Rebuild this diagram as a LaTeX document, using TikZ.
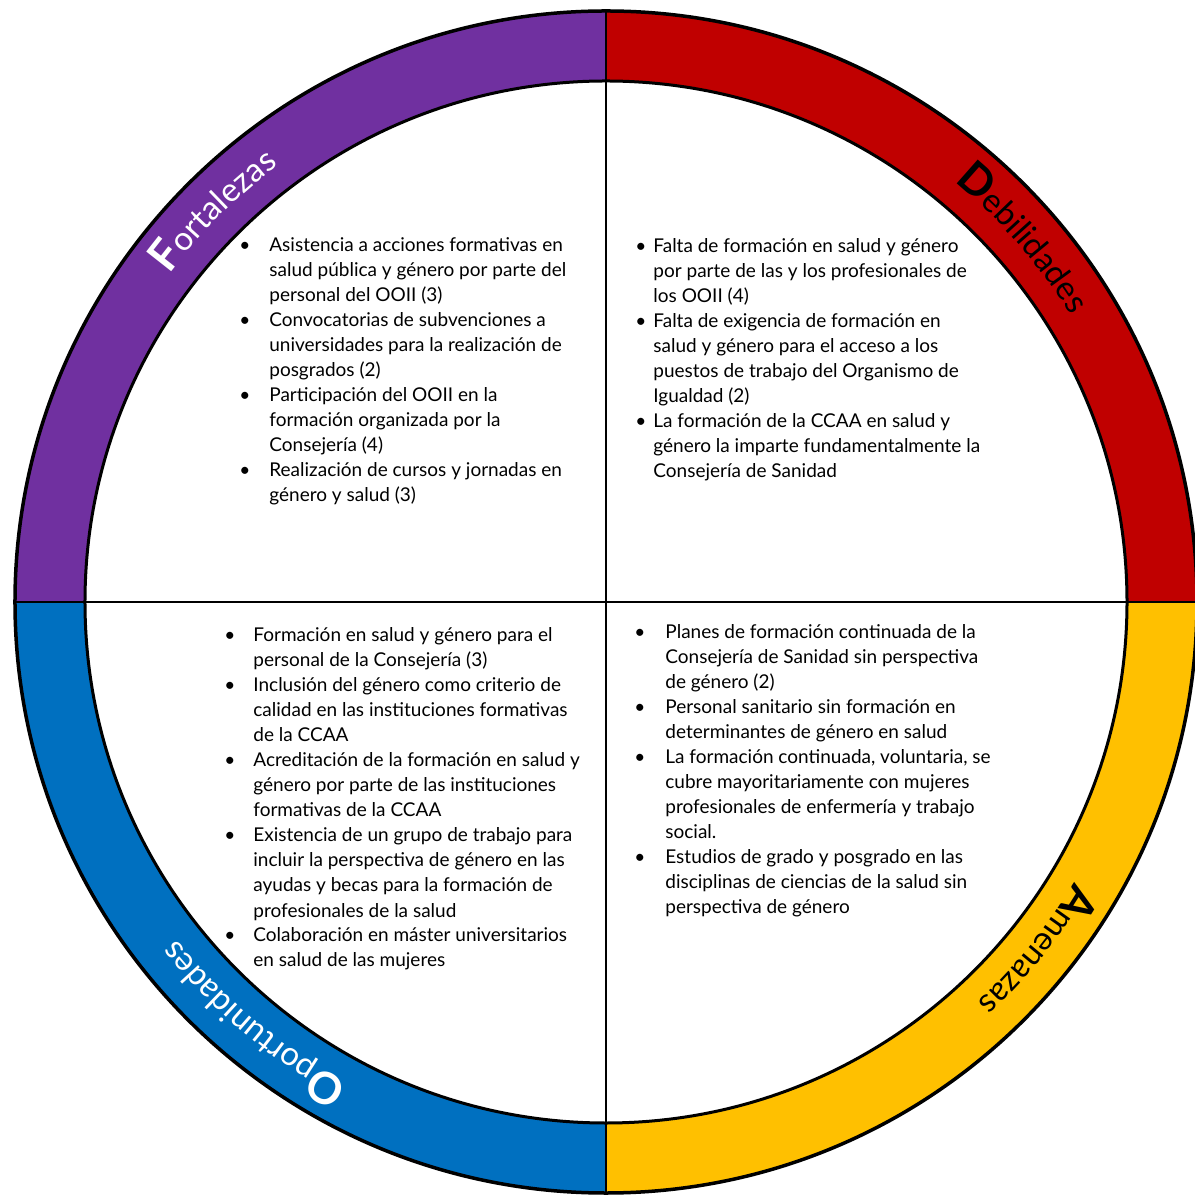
\documentclass[tikz,border=0pt]{standalone}
\usepackage{fontspec}
\setmainfont{Lato}
\usetikzlibrary{decorations.text}

\definecolor{fpurple}{HTML}{7030A0}
\definecolor{dred}{HTML}{C00000}
\definecolor{ablue}{HTML}{0070C0}
\definecolor{ayellow}{HTML}{FFC000}

\newcommand{\capfont}{\fontsize{22}{22}\selectfont\bfseries}
\newcommand{\lowfont}{\fontsize{16.5}{16.5}\selectfont\mdseries}

\tikzset{
	ring line/.style={line width=1.75pt},
	swot list/.style={anchor=base west, inner sep=0pt, font=\fontsize{9.5}{12.5}\selectfont},
	ring label/.style={decorate, decoration={text along path, text align=center, text color=#1}}
}

\begin{document}
\begin{tikzpicture}[x=0.5pt, y=0.5pt]
	\useasboundingbox (-606,-595) rectangle (588,602);
	% the four quarters of the ring
	\fill[fpurple] (90:591) arc (90:180:591) -- (180:521) arc (180:90:521) -- cycle;
	\fill[dred] (0:591) arc (0:90:591) -- (90:521) arc (90:0:521) -- cycle;
	\fill[ayellow] (270:591) arc (270:360:591) -- (0:521) arc (360:270:521) -- cycle;
	\fill[ablue] (180:591) arc (180:270:591) -- (270:521) arc (270:180:521) -- cycle;
	\draw[ring line] (0,0) circle (591);
	\draw[line width=1.5pt] (0,0) circle (521);
	\coordinate (top) at (90:592);
	\coordinate (bottom) at (270:592);
	\coordinate (left) at (180:592);
	\coordinate (right) at (0:592);
	\draw[line width=1pt] (top) -- (bottom);
	\draw[line width=1pt] (left) -- (right);
	% names along the ring
	\path[ring label=white, decoration={text={|\capfont|F|\lowfont|ortalezas}}]
		(165:546) arc[start angle=165, end angle=105, radius=546];
	\path[ring label=black, decoration={text={|\capfont|D|\lowfont|ebilidades}}]
		(71:546) arc[start angle=71, end angle=11, radius=546];
	\path[ring label=black, decoration={text={|\capfont|A|\lowfont|menazas}}]
		(-9:546) arc[start angle=-9, end angle=-69, radius=546];
	\path[ring label=white, decoration={text={|\capfont|O|\lowfont|portunidades}}]
		(260:546) arc[start angle=260, end angle=200, radius=546];
	% lists
	\node[swot list] (fortalezas) at (-367,350) {%
		\begin{tabular}[t]{@{}p{15pt}@{}l@{}}
		\textbullet & Asistencia a acciones formativas en\\
		& salud pública y género por parte del\\
		& personal del OOII (3)\\
		\textbullet & Convocatorias de subvenciones a\\
		& universidades para la realización de\\
		& posgrados (2)\\
		\textbullet & Participación del OOII en la\\
		& formación organizada por la\\
		& Consejería (4)\\
		\textbullet & Realización de cursos y jornadas en\\
		& género y salud (3)
		\end{tabular}};
	\node[swot list] (debilidades) at (29,349) {%
		\begin{tabular}[t]{@{}p{9pt}@{}l@{}}
		\textbullet & Falta de formación en salud y género\\
		& por parte de las y los profesionales de\\
		& los OOII (4)\\
		\textbullet & Falta de exigencia de formación en\\
		& salud y género para el acceso a los\\
		& puestos de trabajo del Organismo de\\
		& Igualdad (2)\\
		\textbullet & La formación de la CCAA en salud y\\
		& género la imparte fundamentalmente la\\
		& Consejería de Sanidad
		\end{tabular}};
	\node[swot list] (oportunidades) at (-382,-40) {%
		\begin{tabular}[t]{@{}p{14.5pt}@{}l@{}}
		\textbullet & Formación en salud y género para el\\
		& personal de la Consejería (3)\\
		\textbullet & Inclusión del género como criterio de\\
		& calidad en las instituciones formativas\\
		& de la CCAA\\
		\textbullet & Acreditación de la formación en salud y\\
		& género por parte de las instituciones\\
		& formativas de la CCAA\\
		\textbullet & Existencia de un grupo de trabajo para\\
		& incluir la perspectiva de género en las\\
		& ayudas y becas para la formación de\\
		& profesionales de la salud\\
		\textbullet & Colaboración en máster universitarios\\
		& en salud de las mujeres
		\end{tabular}};
	\node[swot list] (amenazas) at (28,-37) {%
		\begin{tabular}[t]{@{}p{15.5pt}@{}l@{}}
		\textbullet & Planes de formación continuada de la\\
		& Consejería de Sanidad sin perspectiva\\
		& de género (2)\\
		\textbullet & Personal sanitario sin formación en\\
		& determinantes de género en salud\\
		\textbullet & La formación continuada, voluntaria, se\\
		& cubre mayoritariamente con mujeres\\
		& profesionales de enfermería y trabajo\\
		& social.\\
		\textbullet & Estudios de grado y posgrado en las\\
		& disciplinas de ciencias de la salud sin\\
		& perspectiva de género
		\end{tabular}};
\end{tikzpicture}
\end{document}
